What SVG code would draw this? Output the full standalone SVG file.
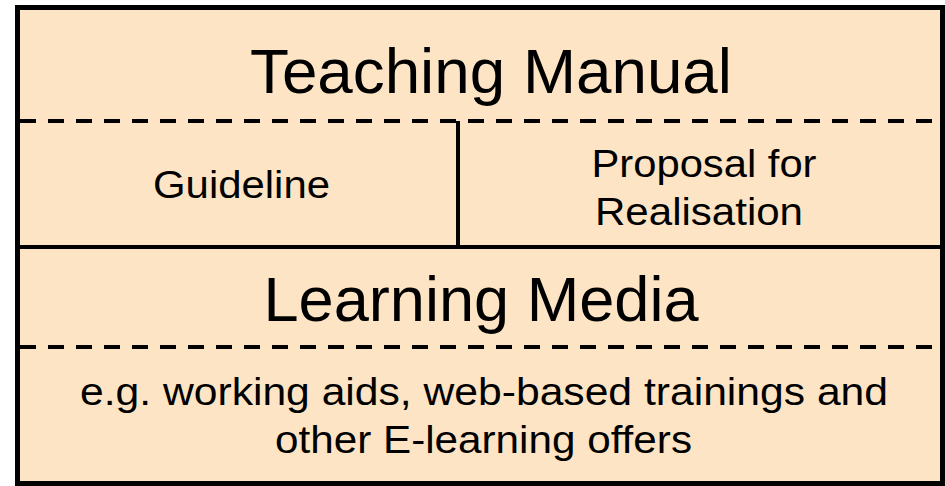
<svg xmlns="http://www.w3.org/2000/svg" width="945" height="486" viewBox="0 0 945 486">
  <style>
    .t { font-family: "Liberation Sans", Arial, sans-serif; fill: #000; text-anchor: middle; }
    .big { font-size: 63px; }
    .small { font-size: 38px; }
    .solid { stroke: #000; stroke-width: 4; fill: none; }
    .dash { stroke: #000; stroke-width: 4; fill: none; stroke-dasharray: 16 12; }
  </style>
  <rect id="frame" x="17.5" y="7.5" width="925" height="476" fill="#FDE4C4" stroke="#000" stroke-width="5"/>
  <g id="connectors">
    <line class="dash" x1="20" y1="121" x2="940" y2="121"/>
    <line class="solid" x1="458" y1="121" x2="458" y2="247"/>
    <line class="solid" x1="20" y1="247" x2="940" y2="247"/>
    <line class="dash" x1="20" y1="347" x2="940" y2="347"/>
  </g>
  <g id="teaching-manual">
    <text class="t big" x="491" y="93" textLength="482" lengthAdjust="spacingAndGlyphs">Teaching Manual</text>
  </g>
  <g id="guideline">
    <text class="t small" x="241.5" y="198" textLength="177" lengthAdjust="spacingAndGlyphs">Guideline</text>
  </g>
  <g id="proposal">
    <text class="t small" x="704" y="177" textLength="225" lengthAdjust="spacingAndGlyphs">Proposal for</text>
    <text class="t small" x="699" y="225" textLength="208" lengthAdjust="spacingAndGlyphs">Realisation</text>
  </g>
  <g id="learning-media">
    <text class="t big" x="481" y="321" textLength="435" lengthAdjust="spacingAndGlyphs">Learning Media</text>
  </g>
  <g id="examples">
    <text class="t small" x="484" y="405" textLength="808" lengthAdjust="spacingAndGlyphs">e.g. working aids, web-based trainings and</text>
    <text class="t small" x="483.5" y="453" textLength="417" lengthAdjust="spacingAndGlyphs">other E-learning offers</text>
  </g>
</svg>
